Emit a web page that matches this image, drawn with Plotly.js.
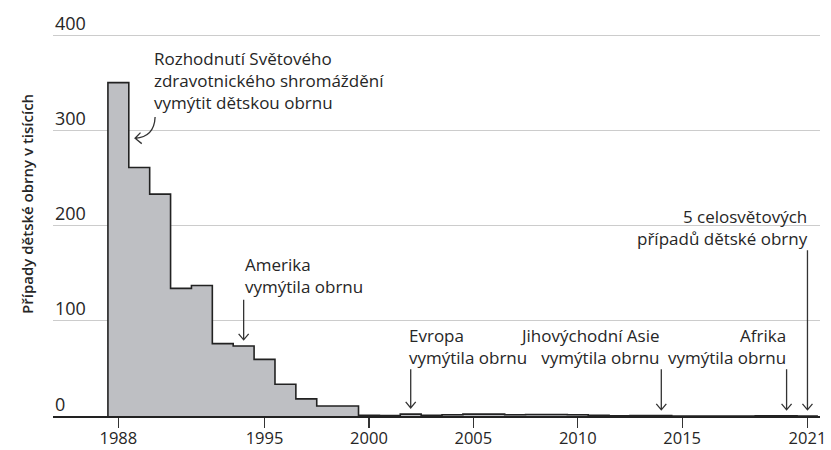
<!DOCTYPE html>
<html>
<head>
<meta charset="utf-8">
<script src="https://cdn.plot.ly/plotly-3.0.1.min.js"></script>
<style>html,body{margin:0;padding:0;background:#fff;}#chart{width:831px;height:450px;}</style>
</head>
<body>
<div id="chart"></div>
<script>
// Data (cases of polio, thousands)
const years = [1988,1989,1990,1991,1992,1993,1994,1995,1996,1997,1998,1999,2000,2001,2002,2003,2004,2005,2006,2007,2008,2009,2010,2011,2012,2013,2014,2015,2016,2017,2018,2019,2020,2021];
const cases = [350,261,233,134,137,76,73.5,59.5,33.3,18,10.5,10.5,0.72,0.48,1.92,0.78,1.26,1.98,2.0,1.32,1.65,1.6,1.35,0.65,0.22,0.42,0.36,0.07,0.04,0.02,0.03,0.18,0.14,0.005];
const xTickVals = [1988,1995,2000,2005,2010,2015,2021];
const xTickText = ['1988','1995','2000','2005','2010','2015','2021'];
const yTickVals = [0,100,200,300,400];
const yTickText = ['0','100','200','300','400'];
const yTitle = 'Případy dětské obrny v tisících';
const notes = [
  {text:'Rozhodnutí Světového<br>zdravotnického shromáždění<br>vymýtit dětskou obrnu', x:1989.62, y:352, xanchor:'left', align:'left'},
  {text:'Amerika<br>vymýtila obrnu', x:1993.98, y:147.5, xanchor:'left', align:'left'},
  {text:'Evropa<br>vymýtila obrnu', x:2001.83, y:73.5, xanchor:'left', align:'left'},
  {text:'Jihovýchodní Asie<br>vymýtila obrnu', x:2014.05, y:73.5, xanchor:'right', align:'right'},
  {text:'Afrika<br>vymýtila obrnu', x:2020.05, y:73.5, xanchor:'right', align:'right'},
  {text:'5 celosvětových<br>případů dětské obrny', x:2021.12, y:198, xanchor:'right', align:'right'}
];
const arrows = [
  {x:1994, y0:122, y1:80},
  {x:2002, y0:49, y1:8.5},
  {x:2014, y0:49, y1:6.5},
  {x:2020, y0:49, y1:6.5},
  {x:2021, y0:174, y1:6.5}
];

// Build step outline from year edges
const xs = [years[0]-0.5], ys = [0];
for (let i = 0; i < years.length; i++) { xs.push(years[i]-0.5); ys.push(cases[i]); }
xs.push(years[years.length-1]+0.5); ys.push(cases[cases.length-1]);
xs.push(years[years.length-1]+0.5); ys.push(0);

const font = "'Open Sans', sans-serif";
const txt = '#262626';

const trace = {
  x: xs, y: ys, type:'scatter', mode:'lines',
  line:{shape:'hv', color:'#222', width:1.6},
  fill:'tozeroy', fillcolor:'#bebfc3',
  hoverinfo:'skip', showlegend:false
};

const shapes = [];
const ax = 0.24, ay = 6.3;
arrows.forEach(a => {
  shapes.push({type:'path', xref:'x', yref:'y', layer:'above',
    path:`M${a.x},${a.y0} L${a.x},${a.y1} M${a.x-ax},${a.y1+ay} L${a.x},${a.y1} L${a.x+ax},${a.y1+ay}`,
    line:{color:'#333', width:1.3}});
});
// curved arrow for WHA note
shapes.push({type:'path', xref:'x', yref:'y', layer:'above',
  path:'M1989.76,314 Q1989.72,293 1988.8,291.6 M1989.06,297.5 L1988.8,291.6 L1989.12,286',
  line:{color:'#333', width:1.3}});

const annotations = notes.map(n => ({
  text:n.text, x:n.x, y:n.y, xref:'x', yref:'y', xanchor:n.xanchor, yanchor:'middle',
  align:n.align, showarrow:false, font:{family:font, size:17, color:txt}
}));
// y tick labels sit above their gridlines
yTickVals.forEach((v, i) => {
  annotations.push({text:yTickText[i], xref:'paper', yref:'y', x:0, y:v,
    xanchor:'left', yanchor:'middle', yshift:12.5, showarrow:false,
    font:{family:font, size:18, color:txt}});
});
annotations.push({text:yTitle, xref:'paper', yref:'paper', x:-0.034, y:0.53,
  xanchor:'center', yanchor:'middle', textangle:-90, showarrow:false,
  font:{family:font, size:15, weight:600, color:txt}});

const layout = {
  width:831, height:450,
  margin:{l:53, r:11, t:16, b:34},
  paper_bgcolor:'#fff', plot_bgcolor:'#fff',
  font:{family:font, color:txt},
  xaxis:{range:[1984.87,2021.6], tickvals:xTickVals, ticktext:xTickText,
    showgrid:false, zeroline:false, showline:true, linecolor:'#222', linewidth:2,
    ticks:'outside', ticklen:10, tickwidth:1.3, tickcolor:'#333',
    ticklabelstandoff:-4,
    tickfont:{family:font, size:16.5, color:txt}, fixedrange:true},
  yaxis:{range:[0,420], tickvals:yTickVals, showticklabels:false,
    showgrid:true, gridcolor:'#cccccc', gridwidth:1, zeroline:false, showline:false,
    ticks:'', fixedrange:true},
  shapes:shapes, annotations:annotations
};

Plotly.newPlot('chart', [trace], layout, {displayModeBar:false, staticPlot:true});
</script>
</body>
</html>
